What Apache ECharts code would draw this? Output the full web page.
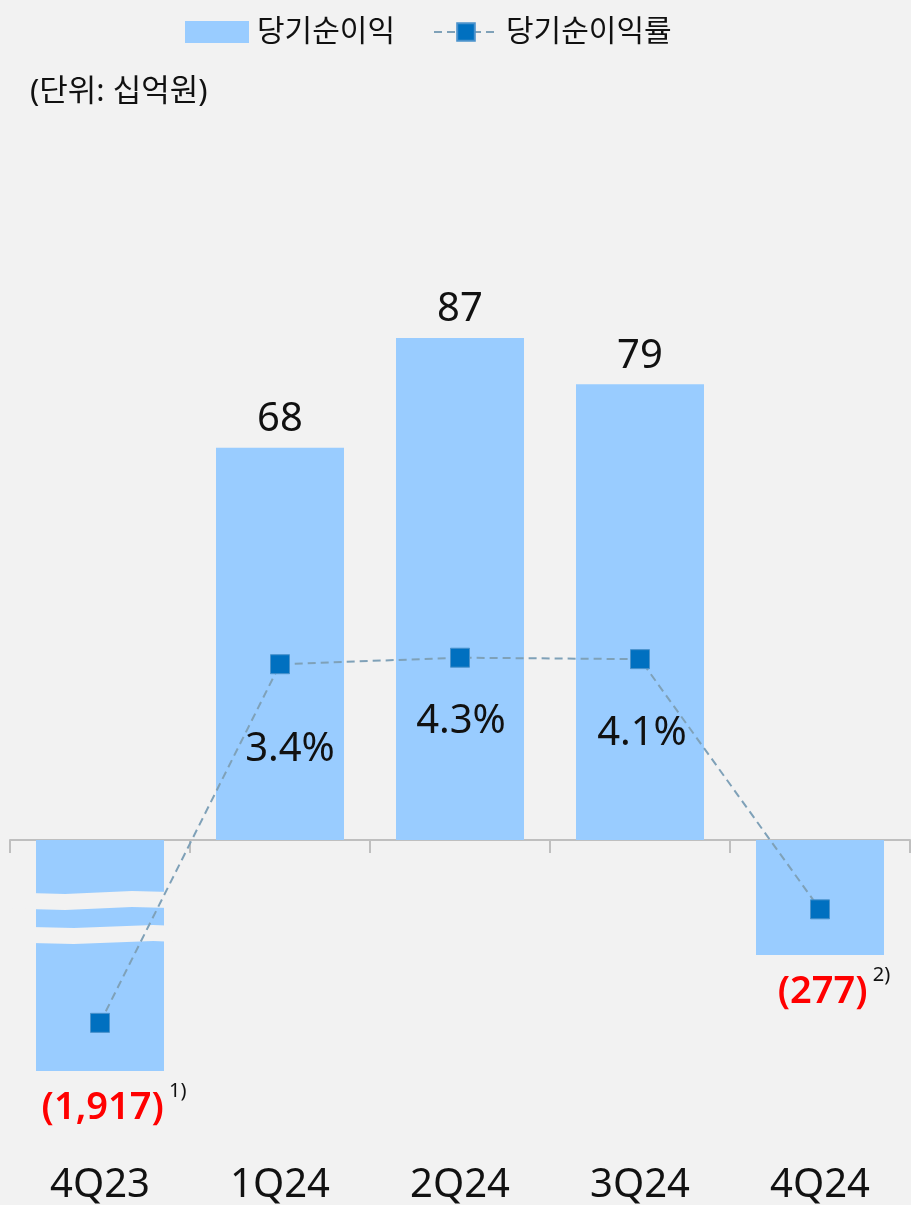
<!DOCTYPE html>
<html>
<head>
<meta charset="utf-8">
<script src="https://cdn.jsdelivr.net/npm/echarts@6.0.0/dist/echarts.min.js"></script>
<style>
html,body{margin:0;padding:0;background:#f2f2f2;}
#box{width:911px;height:1205px;}
</style>
</head>
<body>
<div id="box"></div>
<script>
// 분기
var quarters = ['4Q23', '1Q24', '2Q24', '3Q24', '4Q24'];
// 당기순이익 (십억원)
var netIncome = [-1917, 68, 87, 79, -277];
// 당기순이익률 (%) - 4Q23, 4Q24 는 라벨이 없어 그림에서 읽은 값
var netMargin = [-46.2, 3.4, 4.3, 4.1, -30.5];
// 주석 번호
var notes = ['1)', '', '', '', '2)'];

var font = "'Noto Sans', 'Noto Sans CJK KR', sans-serif";

var chart = {
	barLabel: function(i){
		var v = netIncome[i];
		if (v >= 0) {
			return {show: true, position: 'top', distance: 5, formatter: '{pos|' + v + '}'};
		}
		var txt = '(' + Math.abs(v).toLocaleString('en-US') + ')';
		return {
			show: true, position: 'bottom', distance: 10, offset: [14, 0],
			formatter: '{neg|' + txt + '}' + (notes[i] ? '{sup| ' + notes[i] + '}' : '')
		};
	},
	init: function(){
		var myChart = echarts.init(document.getElementById('box'));
		var rich = {
			pos: {fontSize: 40, lineHeight: 46, color: '#111', fontFamily: font},
			neg: {fontSize: 38, lineHeight: 46, padding: [8, 0, 0, 0], color: '#ff0000', fontWeight: 600, fontFamily: font},
			sup: {fontSize: 20, lineHeight: 8, verticalAlign: 'top', color: '#111', fontFamily: font}
		};
		// 라벨 위치 (1Q24~3Q24)
		var marginOffset = [[0, 0], [10, 85], [1, 64], [2, 74], [0, 0]];

		var mainBars = netIncome.map(function(v, i){
			if (i === 0) return '-';
			return {value: v, label: chart.barLabel(i)};
		});
		var marginData = netMargin.map(function(v, i){
			return {
				value: v,
				label: {show: v > 0, position: 'inside', offset: marginOffset[i]}
			};
		});

		var option = {
			backgroundColor: '#f2f2f2',
			textStyle: {fontFamily: font},
			title: {
				text: '(단위: 십억원)',
				left: 30, top: 75, padding: 0,
				textStyle: {fontSize: 31, fontWeight: 'normal', color: '#111', lineHeight: 34, fontFamily: font}
			},
			legend: {
				left: 180, top: 12,
				itemWidth: 64, itemHeight: 22, itemGap: 38,
				textStyle: {fontSize: 30, color: '#111', fontFamily: font, padding: [0, 0, 0, 3]},
				data: [{name: '당기순이익', icon: 'rect'}, {name: '당기순이익률'}]
			},
			grid: [
				{left: 10, right: 1, top: 263, bottom: 134, outerBoundsMode: 'none'},
				{left: 10, width: 180, top: 263, bottom: 134, outerBoundsMode: 'none'}
			],
			xAxis: [
				{
					type: 'category', gridIndex: 0, data: quarters,
					axisLine: {show: true, onZero: true, onZeroAxisIndex: 0, lineStyle: {color: '#bfbfbf', width: 2}},
					axisTick: {show: true, length: 13, lineStyle: {color: '#bfbfbf', width: 2}},
					axisLabel: {show: false}
				},
				{type: 'category', gridIndex: 1, data: [quarters[0]], show: false},
				{
					type: 'category', gridIndex: 0, data: quarters, position: 'bottom',
					axisLine: {show: false, onZero: false}, axisTick: {show: false},
					axisLabel: {show: true, margin: 100, fontSize: 40, lineHeight: 30, color: '#111', fontFamily: font}
				}
			],
			yAxis: [
				{
					type: 'value', gridIndex: 0, min: -297.1, max: 100,
					breaks: [{start: -265, end: -7.93, gap: 0}],
					breakArea: {show: false},
					axisLine: {show: false}, axisTick: {show: false},
					axisLabel: {show: false}, splitLine: {show: false}
				},
				{
					type: 'value', gridIndex: 0, min: -52.86, max: 58.89, show: false
				},
				{
					type: 'value', gridIndex: 1, min: -1917, max: 100,
					breaks: [
						{start: -500, end: -9.01, gap: 2.773},
						{start: -1894.64, end: -503.12, gap: 2.773}
					],
					breakArea: {
						show: true,
						itemStyle: {color: '#f2f2f2', borderWidth: 0, opacity: 1},
						zigzagAmplitude: 1.5,
						zigzagMinSpan: 50,
						zigzagMaxSpan: 80
					},
					axisLine: {show: false}, axisTick: {show: false},
					axisLabel: {show: false}, splitLine: {show: false}
				}
			],
			series: [
				{
					name: '당기순이익', type: 'bar', xAxisIndex: 0, yAxisIndex: 0,
					barWidth: 128, data: mainBars,
					itemStyle: {color: '#99ccff'},
					label: {rich: rich}
				},
				{
					name: '당기순이익', type: 'bar', xAxisIndex: 1, yAxisIndex: 2,
					barWidth: 128,
					data: [{value: netIncome[0], label: chart.barLabel(0)}],
					itemStyle: {color: '#99ccff'},
					label: {rich: rich}
				},
				{
					name: '당기순이익률', type: 'line', xAxisIndex: 0, yAxisIndex: 1,
					z: 200, data: marginData,
					symbol: 'rect', symbolSize: 19,
					itemStyle: {color: '#0070c0', borderColor: '#4a92cc', borderWidth: 1},
					lineStyle: {color: '#7fa1b8', width: 2, type: [8, 5]},
					label: {
						fontSize: 40, color: '#111', fontFamily: font,
						formatter: function(p){ return p.value.toFixed(1) + '%'; }
					}
				}
			]
		};
		myChart.setOption(option);
	}
};

chart.init();
</script>
</body>
</html>
